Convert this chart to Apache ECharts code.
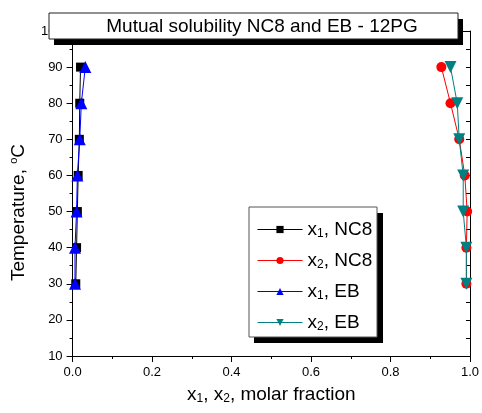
<!DOCTYPE html>
<html>
<head>
<meta charset="utf-8">
<script src="https://cdn.jsdelivr.net/npm/echarts@6/dist/echarts.min.js"></script>
<style>
  html, body { margin: 0; padding: 0; background: #fff; }
  #chart { width: 482px; height: 413px; }
</style>
</head>
<body>
<div id="chart"></div>
<script>
// temperatures, deg C
const temps = [30, 40, 50, 60, 70, 80, 90]
// molar fractions
const x1NC8 = [0.008, 0.010, 0.012, 0.014, 0.017, 0.018, 0.020]
const x2NC8 = [0.991, 0.991, 0.993, 0.987, 0.973, 0.951, 0.928]
const x1EB = [0.006, 0.006, 0.010, 0.012, 0.018, 0.022, 0.032]
const x2EB = [0.991, 0.991, 0.983, 0.983, 0.973, 0.968, 0.951]

const seriesNames = ['x1, NC8', 'x2, NC8', 'x1, EB', 'x2, EB']
const titleText = 'Mutual solubility NC8 and EB - 12PG'

const font = 'Arial, "Liberation Sans", sans-serif'

function pairs(xs) {
  return xs.map((x, i) => [x, temps[i]])
}

function lineSeries(name, xs, color, symbol, size, rotate) {
  return {
    name: name,
    type: 'line',
    data: pairs(xs),
    symbol: symbol,
    symbolSize: size,
    symbolRotate: rotate || 0,
    showAllSymbol: true,
    lineStyle: { color: color, width: 1 },
    itemStyle: { color: color },
    z: 3
  }
}

// x1 -> {a|x}{s|1}{a|, ...}
function subName(name) {
  const m = name.match(/^x(\d)(.*)$/)
  return '{a|x}{s|' + m[1] + '}{a|' + m[2] + '}'
}

// rich styles for text with subscripts
const subRich = {
  a: { fontSize: 19, lineHeight: 20, color: '#000', fontFamily: font },
  s: { fontSize: 12, lineHeight: 12, color: '#000', fontFamily: font, padding: [9, 0, 0, 0] }
}

const chart = echarts.init(document.getElementById('chart'), null, { renderer: 'canvas' })

chart.setOption({
  animation: false,
  backgroundColor: '#fff',
  textStyle: { fontFamily: font },
  grid: { left: 71, right: 10, top: 31, bottom: 57 },
  xAxis: [{
    type: 'value',
    min: 0, max: 1, interval: 0.2,
    position: 'bottom',
    axisLine: { onZero: false, lineStyle: { color: '#000', width: 1 } },
    axisTick: { inside: false, length: 6, lineStyle: { color: '#000' } },
    minorTick: { show: true, splitNumber: 2, length: 3, lineStyle: { color: '#000' } },
    splitLine: { show: false },
    axisLabel: {
      color: '#000', fontSize: 13, fontFamily: font, margin: 10,
      formatter: v => v.toFixed(1)
    },
    name: '{a|x}{s|1}{a|, x}{s|2}{a|, molar fraction}',
    nameLocation: 'middle',
    nameGap: 18,
    nameTextStyle: { rich: subRich }
  }, {
    type: 'value',
    min: 0, max: 1, interval: 0.2,
    position: 'top',
    axisLine: { onZero: false, lineStyle: { color: '#000', width: 1 } },
    axisTick: { inside: true, length: 5, lineStyle: { color: '#000' } },
    minorTick: { show: true, splitNumber: 2, length: 3, lineStyle: { color: '#000' } },
    splitLine: { show: false },
    axisLabel: { show: false }
  }],
  yAxis: [{
    type: 'value',
    min: 10, max: 100, interval: 10,
    position: 'left',
    axisLine: { onZero: false, lineStyle: { color: '#000', width: 1 } },
    axisTick: { inside: false, length: 6, lineStyle: { color: '#000' } },
    minorTick: { show: true, splitNumber: 2, length: 3, lineStyle: { color: '#000' } },
    splitLine: { show: false },
    axisLabel: { color: '#000', fontSize: 13, fontFamily: font, margin: 10 },
    name: '{a|Temperature, }{o|o}{a|C}',
    nameLocation: 'middle',
    nameGap: 42,
    nameTextStyle: {
      padding: [0, 38, 0, 0],
      rich: {
        a: { fontSize: 19, lineHeight: 20, color: '#000', fontFamily: font },
        o: { fontSize: 11, lineHeight: 11, color: '#000', fontFamily: font, padding: [0, 0, 11, 0] }
      }
    }
  }, {
    type: 'value',
    min: 10, max: 100, interval: 10,
    position: 'right',
    axisLine: { onZero: false, lineStyle: { color: '#000', width: 1 } },
    axisTick: { inside: true, length: 4, lineStyle: { color: '#000' } },
    minorTick: { show: true, splitNumber: 2, length: 4, lineStyle: { color: '#000' } },
    splitLine: { show: false },
    axisLabel: { show: false }
  }],
  legend: {
    orient: 'vertical',
    left: 257,
    top: 219,
    padding: 0,
    itemWidth: 45,
    itemHeight: 9,
    itemGap: 10,
    data: seriesNames,
    formatter: subName,
    lineStyle: { width: 1 },
    z: 20,
    textStyle: { rich: subRich }
  },
  graphic: [
    // legend frame with drop shadow
    { type: 'rect', z: 10, shape: { x: 254, y: 213, width: 129, height: 130 }, style: { fill: '#000' } },
    { type: 'rect', z: 11, shape: { x: 249, y: 207, width: 128, height: 130 }, style: { fill: '#fff', stroke: '#555', lineWidth: 1 } },
    // title box with drop shadow, sits over the top of the plot
    { type: 'rect', z: 100, shape: { x: 54, y: 19, width: 409, height: 26 }, style: { fill: '#000' } },
    { type: 'rect', z: 101, shape: { x: 49, y: 13, width: 409, height: 26 }, style: { fill: '#fff', stroke: '#222', lineWidth: 1 } },
    {
      type: 'text', z: 102, x: 262, y: 27,
      style: {
        text: titleText, fill: '#000', fontSize: 19, fontFamily: font,
        align: 'center', verticalAlign: 'middle'
      }
    }
  ],
  series: [
    lineSeries(seriesNames[0], x1NC8, '#000000', 'rect', 9),
    lineSeries(seriesNames[1], x2NC8, '#ff0000', 'circle', 10),
    lineSeries(seriesNames[2], x1EB, '#0000ff', 'triangle', 12),
    lineSeries(seriesNames[3], x2EB, '#008080', 'triangle', 12, 180)
  ]
})
</script>
</body>
</html>
